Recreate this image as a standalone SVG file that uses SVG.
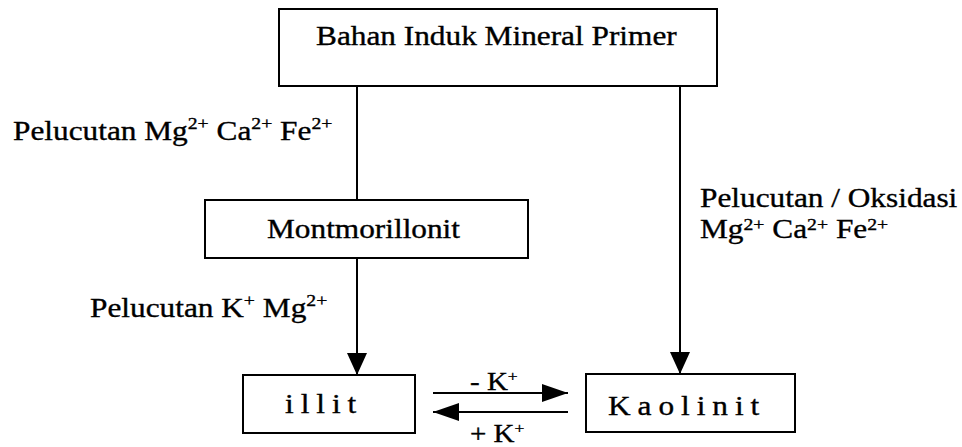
<svg xmlns="http://www.w3.org/2000/svg" width="962" height="447" viewBox="0 0 962 447">
<style>
.box{fill:#fff;stroke:#000;stroke-width:2}
.t{font-family:'Liberation Serif','Times New Roman',serif;font-size:27px;fill:#000;stroke:#000;stroke-width:0.35}
.sup{font-size:17px}
.ln{stroke:#000;stroke-width:2;fill:none}
</style>
<defs>
<marker id="ah" markerUnits="userSpaceOnUse" markerWidth="24" markerHeight="20" refX="22" refY="10" orient="auto">
<path d="M0,0 L22,10 L0,20 Z" fill="#000"/>
</marker>
<marker id="ahh" markerUnits="userSpaceOnUse" markerWidth="28" markerHeight="20" refX="26" refY="10" orient="auto">
<path d="M0,1 L26,10 L0,19 Z" fill="#000"/>
</marker>
</defs>
<rect width="962" height="447" fill="#fff"/>
<g id="connectors">
<line class="ln" x1="357" y1="86" x2="357" y2="200"/>
<line class="ln" x1="357" y1="258" x2="357" y2="375" marker-end="url(#ah)"/>
<line class="ln" x1="680" y1="86" x2="680" y2="374" marker-end="url(#ah)"/>
<line class="ln" x1="433" y1="393" x2="568" y2="393" stroke-width="3" marker-end="url(#ahh)"/>
<line class="ln" x1="568" y1="412" x2="433" y2="412" stroke-width="3" marker-end="url(#ahh)"/>
<text class="t" transform="translate(13,140) scale(1.16,1)">Pelucutan Mg<tspan class="sup" dy="-11">2+</tspan><tspan dy="11"> Ca</tspan><tspan class="sup" dy="-11">2+</tspan><tspan dy="11"> Fe</tspan><tspan class="sup" dy="-11">2+</tspan></text>
<text class="t" transform="translate(90,317) scale(1.16,1)">Pelucutan  K<tspan class="sup" dy="-11">+</tspan><tspan dy="11"> Mg</tspan><tspan class="sup" dy="-11">2+</tspan></text>
<text class="t" transform="translate(700,207) scale(1.16,1)">Pelucutan / Oksidasi</text>
<text class="t" transform="translate(700,238) scale(1.16,1)">Mg<tspan class="sup" dy="-8">2+</tspan><tspan dy="8"> Ca</tspan><tspan class="sup" dy="-8">2+</tspan><tspan dy="8"> Fe</tspan><tspan class="sup" dy="-8">2+</tspan></text>
<text class="t" transform="translate(470,390) scale(1.16,1)" style="font-size:25px">- K<tspan class="sup" dy="-9" style="font-size:15px">+</tspan></text>
<text class="t" transform="translate(470,442) scale(1.16,1)" style="font-size:25px">+ K<tspan class="sup" dy="-9" style="font-size:15px">+</tspan></text>
</g>
<g id="bahan-induk">
<rect class="box" x="279" y="9" width="438" height="77"/>
<text class="t" transform="translate(316,45) scale(1.16,1)">Bahan Induk Mineral Primer</text>
</g>
<g id="montmorillonit">
<rect class="box" x="205" y="200" width="323" height="58"/>
<text class="t" transform="translate(267,238) scale(1.16,1)">Montmorillonit</text>
</g>
<g id="illit">
<rect class="box" x="243" y="375" width="172" height="58"/>
<text class="t" transform="translate(285,413) scale(1.16,1)" style="letter-spacing:6px">illit</text>
</g>
<g id="kaolinit">
<rect class="box" x="586" y="374" width="209" height="58"/>
<text class="t" transform="translate(608,415) scale(1.16,1)" style="letter-spacing:6px">Kaolinit</text>
</g>
</svg>
